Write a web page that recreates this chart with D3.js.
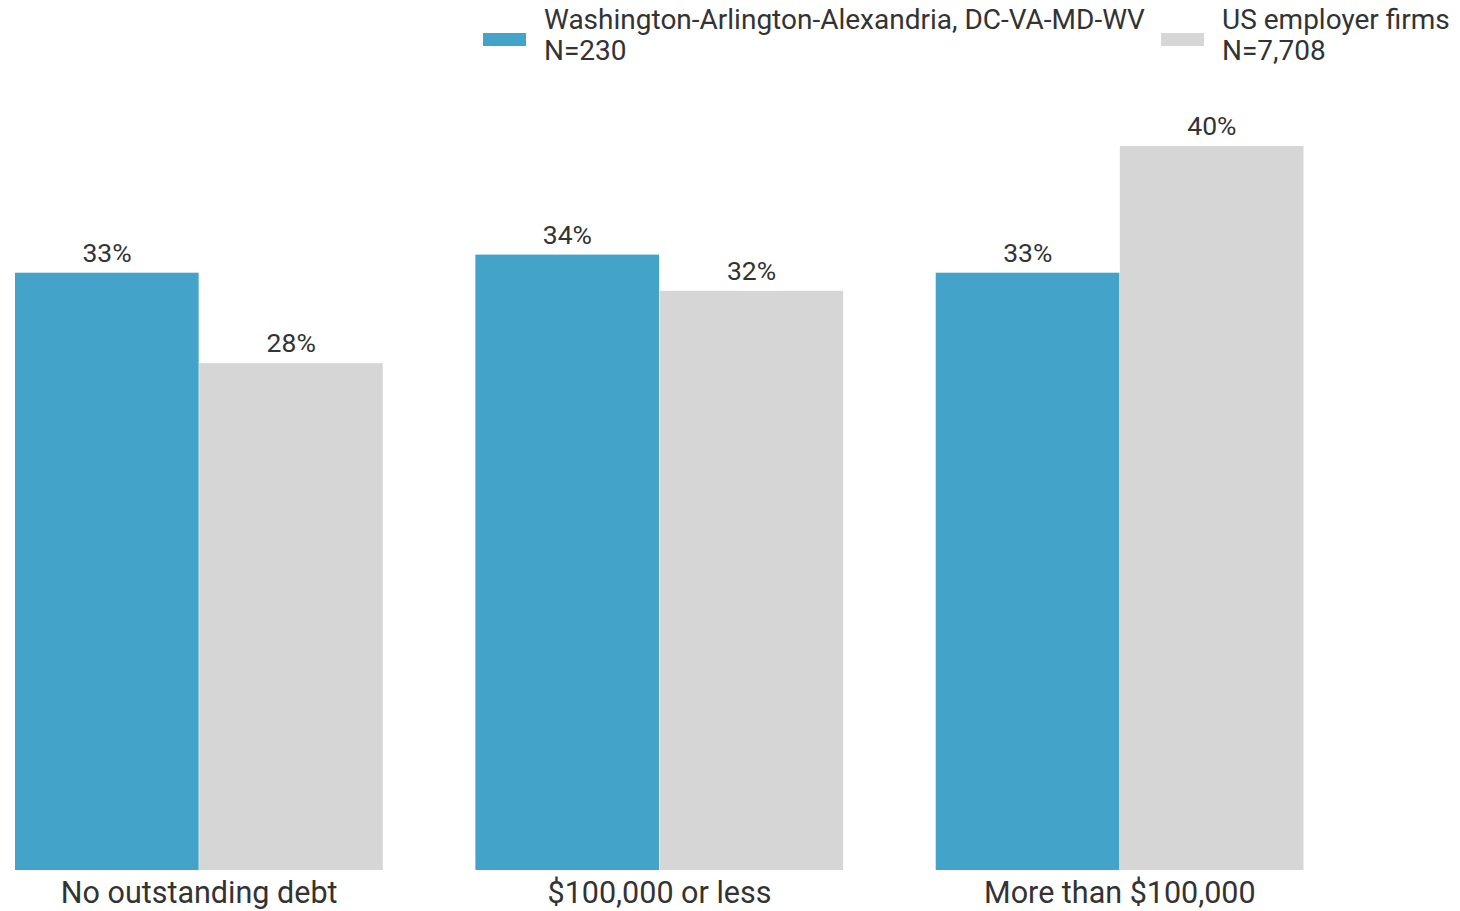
<!DOCTYPE html>
<html>
<head>
<meta charset="utf-8">
<script src="https://cdn.jsdelivr.net/npm/d3@7"></script>
<style>
  body { margin: 0; background: #fff; }
  text { font-family: Roboto, sans-serif; fill: #333; }
</style>
</head>
<body>
<script>
var width = 1460,
    height = 911

var categories = ['No outstanding debt', '$100,000 or less', 'More than $100,000']
var seriesNames = ['Washington-Arlington-Alexandria, DC-VA-MD-WV', 'US employer firms']
var seriesN = ['N=230', 'N=7,708']
var metroValues = [33, 34, 33]
var usValues = [28, 32, 40]
var colors = ['#43a3c8', '#d6d6d6']

var data = categories.map(function(c, i) {
  return {cat: c, values: [metroValues[i], usValues[i]]}
})

var x = d3.scaleBand()
    .domain(categories)
    .range([15, 1304])
    .paddingInner(0.2)
    .paddingOuter(0)

var xs = d3.scaleBand()
    .domain([0, 1])
    .range([0, x.bandwidth()])

var y = d3.scaleLinear()
    .domain([0, 40])
    .range([870, 146])

var svg = d3.select('body').append('svg')
    .attr('width', width)
    .attr('height', height)

var groups = svg.selectAll('g.group')
  .data(data)
  .enter().append('g')
    .attr('class', 'group')
    .attr('transform', function(d) { return 'translate(' + x(d.cat) + ',0)' })

groups.selectAll('rect')
  .data(function(d) { return d.values })
  .enter().append('rect')
    .attr('x', function(d, i) { return xs(i) })
    .attr('width', xs.bandwidth() - 0.5)
    .attr('y', function(d) { return y(d) })
    .attr('height', function(d) { return y(0) - y(d) })
    .attr('fill', function(d, i) { return colors[i] })

groups.selectAll('text.val')
  .data(function(d) { return d.values })
  .enter().append('text')
    .attr('class', 'val')
    .attr('x', function(d, i) { return xs(i) + xs.bandwidth() / 2 })
    .attr('y', function(d) { return y(d) - 11 })
    .attr('text-anchor', 'middle')
    .style('font-size', '26.5px')
    .text(function(d) { return d + '%' })

// category labels
svg.append('g')
    .attr('transform', 'translate(0,870)')
    .call(d3.axisBottom(x).tickSize(0).tickPadding(7))
    .call(function(g) { g.select('.domain').remove() })
    .selectAll('text')
    .style('font-size', '30.5px')
    .attr('fill', '#333')
    .attr('dy', '0.85em')

// legend
var legendX = [483, 1161]
var legend = svg.selectAll('g.legend')
  .data(seriesNames)
  .enter().append('g')
    .attr('class', 'legend')
    .attr('transform', function(d, i) { return 'translate(' + legendX[i] + ',0)' })

legend.append('rect')
    .attr('x', 0)
    .attr('y', 33)
    .attr('width', 43)
    .attr('height', 13)
    .attr('fill', function(d, i) { return colors[i] })

legend.append('text')
    .attr('x', 61)
    .attr('y', 29)
    .style('font-size', '28px')
    .text(function(d) { return d })

legend.append('text')
    .attr('x', 61)
    .attr('y', 60)
    .style('font-size', '28px')
    .text(function(d, i) { return seriesN[i] })
</script>
</body>
</html>
